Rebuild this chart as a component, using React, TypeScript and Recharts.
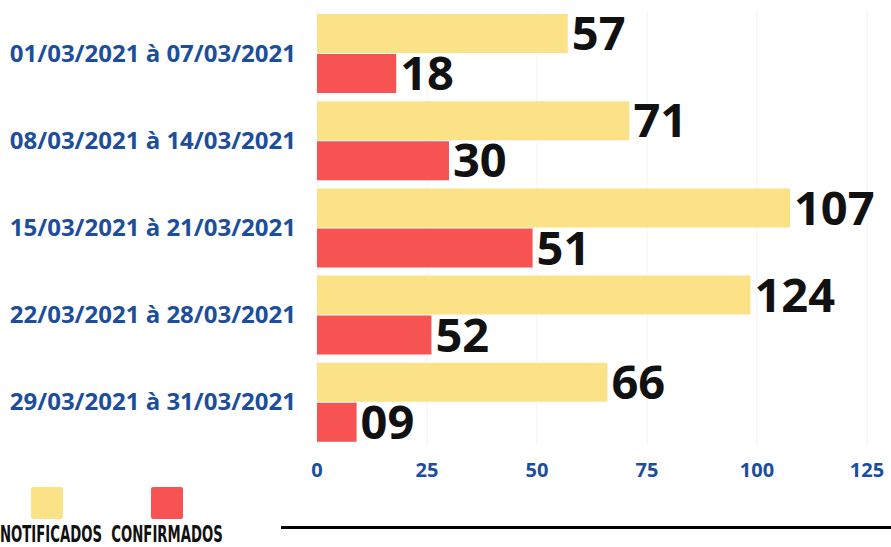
import React from "react";
import { BarChart, Bar, XAxis, YAxis, CartesianGrid, LabelList } from "recharts";

const categories = [
  "01/03/2021 à 07/03/2021",
  "08/03/2021 à 14/03/2021",
  "15/03/2021 à 21/03/2021",
  "22/03/2021 à 28/03/2021",
  "29/03/2021 à 31/03/2021",
];
// bar lengths as drawn in the picture
const notificados = [57, 71, 107.5, 98.5, 66];
const confirmados = [18, 30, 49, 26, 9];
// value labels as printed
const notificadosLabels = ["57", "71", "107", "124", "66"];
const confirmadosLabels = ["18", "30", "51", "52", "09"];
const xTicks = [0, 25, 50, 75, 100, 125];

const YELLOW = "#FCE286";
const RED = "#F65352";
const BLUE = "#1D4E9B";

const data = categories.map((c, i) => ({
  name: c,
  notificados: notificados[i],
  confirmados: confirmados[i],
  nLabel: notificadosLabels[i],
  cLabel: confirmadosLabels[i],
}));

const FONT = "'Open Sans', 'Noto Sans', sans-serif";

const YTick = (props: any) => {
  const { x, y, payload } = props;
  return (
    <text x={x} y={y} dy={8} textAnchor="end" fill={BLUE} fontSize={24} fontWeight={700} fontFamily={FONT}>
      {payload.value}
    </text>
  );
};

const XTick = (props: any) => {
  const { x, y, payload } = props;
  return (
    <text x={x} y={y} dy={14} textAnchor="middle" fill={BLUE} fontSize={20} fontWeight={700} fontFamily={FONT}>
      {payload.value}
    </text>
  );
};

const legendItems = [
  { label: "NOTIFICADOS", color: YELLOW, sq: 31, tx: 51 },
  { label: "CONFIRMADOS", color: RED, sq: 151, tx: 167 },
];

export default function App() {
  return (
    <div style={{ position: "absolute", left: 0, top: 0, width: 891, height: 547, background: "#fff", overflow: "hidden" }}>
      <BarChart
        width={891}
        height={547}
        data={data}
        layout="vertical"
        margin={{ top: 10, right: 24, left: 0, bottom: 0 }}
        barCategoryGap={4}
        barGap={1}
      >
        <CartesianGrid horizontal={false} stroke="#f3f3f3" />
        <XAxis
          type="number"
          domain={[0, 125]}
          ticks={xTicks}
          axisLine={false}
          tickLine={false}
          tickSize={0}
          height={101}
          tick={<XTick />}
          tickMargin={17}
          interval={0}
        />
        <YAxis
          type="category"
          dataKey="name"
          width={317}
          axisLine={false}
          tickLine={false}
          tickSize={0}
          tickMargin={21}
          tick={<YTick />}
          interval={0}
        />
        <Bar dataKey="notificados" fill={YELLOW} isAnimationActive={false}>
          <LabelList dataKey="nLabel" position="right" offset={4} fill="#111" fontSize={47} fontWeight={700} fontFamily={FONT} />
        </Bar>
        <Bar dataKey="confirmados" fill={RED} isAnimationActive={false}>
          <LabelList dataKey="cLabel" position="right" offset={4} fill="#111" fontSize={47} fontWeight={700} fontFamily={FONT} />
        </Bar>
      </BarChart>
      {legendItems.map((it) => (
        <React.Fragment key={it.label}>
          <div style={{ position: "absolute", left: it.sq, top: 487, width: 32, height: 32, background: it.color, borderRadius: 2 }} />
          <div
            style={{
              position: "absolute",
              left: it.tx,
              top: 522,
              transform: "translateX(-50%) scaleX(0.64)",
              fontFamily: "'DejaVu Sans Condensed', 'Liberation Sans Narrow', 'DejaVu Sans', sans-serif",
              fontWeight: 700,
              fontSize: 23,
              color: "#111",
              whiteSpace: "nowrap",
              lineHeight: "24px",
            }}
          >
            {it.label}
          </div>
        </React.Fragment>
      ))}
      <div style={{ position: "absolute", left: 281, top: 526, width: 620, height: 3, background: "#000" }} />
    </div>
  );
}
